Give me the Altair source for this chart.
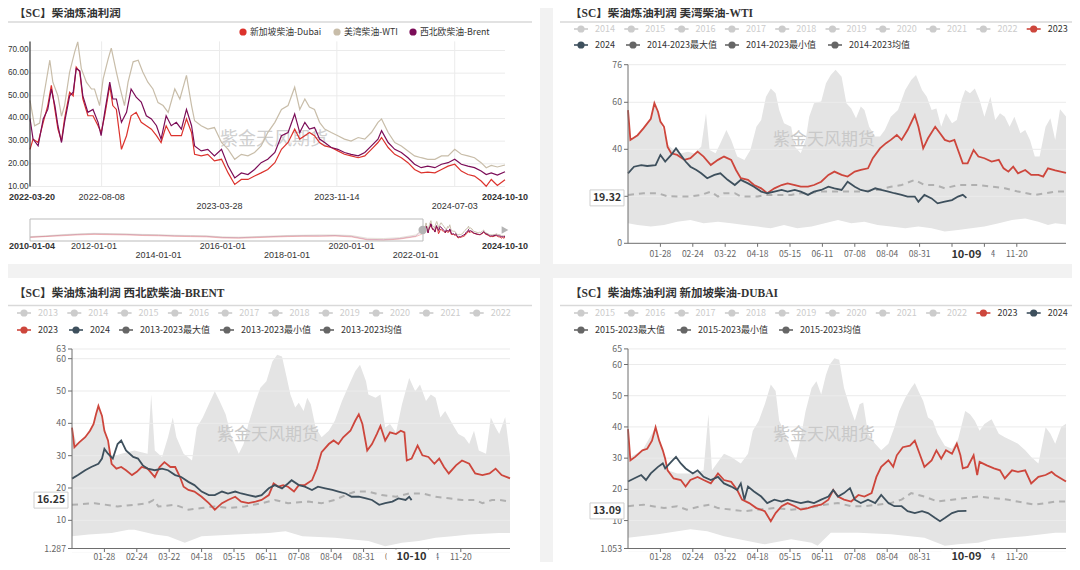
import altair as alt
import pandas as pd

# ======================= DATA =======================
# ---- top-left: diesel crack spreads, x = days since TL_START
TL_START = "2022-03-20"
tl_x_labels = ["2022-03-20", "2022-08-08", "2023-03-28", "2023-11-14", "2024-07-03", "2024-10-10"]
tl_y_ticks = [10, 20, 30, 40, 50, 60, 70]
tl_series_names = ["新加坡柴油-Dubai", "美湾柴油-WTI", "西北欧柴油-Brent"]

wti_days = [0, 9, 19, 26, 39, 45, 55, 62, 68, 78, 88, 94, 101, 111, 121, 127, 137, 144, 154, 160,
            170, 176, 186, 193, 203, 213, 222, 232, 242, 252, 262, 272, 285, 295, 308, 318, 324, 337, 350, 363,
            377, 390, 403, 416, 429, 442, 455, 468, 482, 495, 508, 521, 531, 541, 550, 560, 570, 580, 593, 606,
            619, 632, 646, 659, 672, 685, 692, 705, 718, 731, 744, 757, 770, 783, 797, 810, 823, 836, 849, 862,
            875, 888, 898, 908, 920, 935]
wti_vals = [48, 36.8, 38, 48.6, 65.7, 56, 50, 41, 45.7, 60.5, 69.4, 73.8, 62, 56, 53, 53, 45.7, 57.5, 66.4, 71,
            60.5, 54.6, 45.7, 56, 65, 65.7, 60.5, 56, 53, 47, 45.7, 42.7, 53, 48.6, 59, 45.7, 39, 36.8, 35.3, 36,
            29.4, 26.4, 22, 24.2, 23.5, 25, 27.9, 33.8, 38.3, 44, 45.7, 53.8, 44, 48.6, 45, 44, 38.3, 35.3, 33.8, 32.4,
            30.9, 30, 31.6, 30.9, 33.8, 38.3, 39.8, 33.8, 29.4, 27.9, 25.7, 23.5, 22.7, 22, 22, 23.5, 23.5, 26.4, 24.2, 23.5,
            22.7, 20.5, 18.3, 19.3, 18.6, 19.5]

bd_days = [0, 6, 16, 26, 35, 42, 49, 55, 62, 68, 78, 85, 91, 98, 104, 114, 124, 134, 140, 147,
           157, 163, 170, 180, 190, 199, 209, 219, 229, 239, 249, 258, 268, 278, 288, 298, 308, 318, 324, 337,
           350, 363, 377, 390, 403, 416, 429, 442, 455, 468, 482, 495, 508, 521, 531, 541, 550, 560, 570, 580,
           593, 606, 619, 632, 646, 659, 672, 685, 692, 705, 718, 731, 744, 757, 770, 783, 797, 810, 823, 836,
           849, 862, 875, 888, 898, 908, 920, 935]
brent_vals = [40, 30.9, 27.9, 39.8, 44, 53, 45.7, 36.8, 29.4, 38.3, 50, 51.6, 62, 61, 50, 42.7, 44, 38.3, 32.4, 42.7,
              56, 48.6, 48.6, 38.3, 42.7, 53, 49.4, 47.2, 41.2, 39.8, 36.8, 30.9, 41.2, 36.8, 38.3, 35.3, 44, 36.8, 27.9, 25.7,
              26.4, 23.5, 26.4, 19, 13.8, 16, 15.3, 17.5, 20.5, 22, 25, 32.4, 33.8, 42, 33.8, 38.3, 35.3, 36, 30.9, 29.4,
              27.2, 26.4, 25, 24.2, 23.5, 25, 27.9, 30.9, 34.6, 29.4, 26.4, 25, 22.7, 19.8, 18.3, 19, 18.3, 19.8, 20.5, 22,
              19.8, 19, 18.3, 16.8, 15.3, 16, 15, 16.5]
dubai_vals = [26.4, 30.9, 29.4, 38.3, 45.7, 54.6, 44, 35.3, 30.1, 39.8, 51.6, 50, 62.7, 60.5, 48.6, 41.2, 41.2, 36.8, 33.8, 41.2,
              54.6, 45.7, 44, 26.4, 32.4, 41.2, 42.7, 38.3, 36.8, 35.3, 32.4, 29.4, 36.8, 32.4, 32.4, 32.4, 39.8, 33.8, 24.2, 23.5,
              24.2, 21.3, 22, 16, 10.9, 13.1, 13.1, 14.6, 16, 17.5, 20.5, 26.4, 29.4, 35.3, 30.9, 32.4, 33.8, 32.4, 29.4, 27.9,
              27.2, 25.7, 24.2, 23.5, 22.7, 23.5, 26.4, 29.4, 31.6, 27.2, 24.2, 22.7, 20.5, 17.5, 16, 16.3, 16, 17.5, 19, 19.8,
              16.8, 15.3, 14.6, 12.4, 10.1, 13.1, 10.5, 13]

# ---- data-zoom slider (whole history)
SL_START = "2010-01-04"
slider_labels = ["2010-01-04", "2012-01-01", "2014-01-01", "2016-01-01", "2018-01-01",
                 "2020-01-01", "2022-01-01", "2024-10-10"]
hist_dates = ["2010-01-04", "2010-07-01", "2011-01-01", "2011-07-01", "2012-01-01", "2012-07-01",
              "2013-01-01", "2013-07-01", "2014-01-01", "2014-07-01", "2015-01-01", "2015-07-01",
              "2016-01-01", "2016-07-01", "2017-01-01", "2017-07-01", "2018-01-01", "2018-07-01",
              "2019-01-01", "2019-07-01", "2020-01-01", "2020-07-01", "2021-01-01", "2021-07-01",
              "2022-01-01", "2022-03-19"]
hist_wti = [16, 19, 23, 26, 28, 27, 26, 24, 23, 21, 20, 19, 15, 14, 16, 18, 20, 21, 22, 22, 20, 10, 9, 12, 22, 42]
hist_brent = [14, 17, 21, 24, 26, 25, 24, 22, 21, 19, 18, 17, 13, 12, 14, 16, 18, 19, 19, 20, 17, 6, 5, 9, 18, 38]
hist_dubai = [13, 16, 19, 22, 24, 23, 22, 20, 19, 17, 16, 15, 11, 10, 12, 14, 16, 17, 17, 18, 15, 4, 3, 7, 16, 26]

# ---- seasonal panels, x = day index of year (0 = 01-01, 366-day calendar)
season_tick_days = [27, 54, 81, 108, 135, 162, 189, 216, 243, 270, 297, 324]
season_tick_labels = ["01-28", "02-24", "03-22", "04-18", "05-15", "06-11", "07-08", "08-04",
                      "08-31", "09-27", "10-24", "11-20"]
WATERMARK = "紫金天风期货"

# WTI (US Gulf diesel)
wti_title = "【SC】柴油炼油利润 美湾柴油-WTI"
wti_leg_row1 = ["2014", "2015", "2016", "2017", "2018", "2019", "2020", "2021", "2022", "2023"]
wti_leg_row2 = ["2024", "2014-2023最大值", "2014-2023最小值", "2014-2023均值"]
wti_y_ticks = [0, 20, 40, 60, 76]
wti23_d = [0, 2, 8, 13, 19, 22, 25, 27, 30, 33, 36, 41, 47, 52, 58, 63, 69, 75, 80, 86,
           90, 94, 100, 105, 111, 116, 122, 128, 133, 139, 144, 150, 155, 161, 167, 172, 178, 183, 189, 194,
           200, 204, 210, 215, 219, 224, 228, 233, 239, 242, 246, 250, 256, 260, 264, 268, 272, 275, 279, 283,
           288, 292, 297, 303, 309, 313, 317, 321, 325, 331, 336, 342, 346, 350, 356, 365]
wti23_v = [56.7, 44, 46, 49, 53, 59.6, 56, 51.8, 49.6, 41, 38.3, 37.6, 35.5, 36.2, 39, 36.9, 33.3, 35.5, 36.9, 35.5,
           31.2, 27.7, 27, 24.8, 23.4, 21.3, 23.4, 24.8, 25.5, 24.8, 24.1, 24.1, 24.8, 26.2, 29.1, 30.5, 29.1, 28.4, 30.5, 31.2,
           31.9, 36.2, 40.4, 42.6, 44, 46.1, 44, 48.2, 54.6, 49.6, 40.4, 44.7, 49.6, 46.8, 44, 43.3, 44, 39.7, 34, 34,
           39.7, 36.9, 36.2, 34.8, 35.5, 31.9, 30.5, 32.6, 29.8, 31.2, 29.1, 29.1, 28.4, 31.9, 31, 30]
wti24_d = [0, 5, 11, 16, 23, 27, 31, 36, 40, 44, 48, 52, 57, 61, 66, 72, 77, 83, 89, 94,
           100, 105, 111, 116, 122, 128, 133, 139, 144, 150, 155, 161, 167, 172, 178, 183, 189, 194, 200, 206,
           211, 217, 222, 228, 233, 239, 242, 247, 253, 258, 264, 270, 275, 279, 282]
wti24_v = [29.8, 32.6, 33.3, 32.9, 33.3, 37.6, 34.8, 37.6, 40.4, 37.6, 34.8, 32.6, 31.2, 29.8, 27.7, 29.1, 29.8, 27, 24.8, 27,
           25.5, 24.1, 22, 21.3, 22, 22.7, 22, 22.7, 22, 20.6, 22, 22.7, 24.1, 23.4, 22.7, 26.2, 24.1, 22.7, 22, 23.4,
           22.7, 22, 21.3, 20.6, 19.9, 19.9, 17.7, 20.6, 19.1, 17, 17.7, 18.4, 19.9, 20.6, 19.32]
wti_avg_d = [0, 13, 25, 33, 52, 61, 69, 75, 80, 89, 94, 108, 114, 136, 144, 152, 158, 180, 192, 208,
             219, 228, 239, 247, 256, 264, 275, 286, 292, 303, 314, 325, 339, 348, 356, 365]
wti_avg_v = [20.6, 21.3, 21.3, 20, 19.9, 20.6, 22, 19.9, 21.3, 21.3, 19.9, 19.9, 20.6, 20.6, 21.3, 21.3, 22, 22, 22, 22.7,
             24.1, 24.8, 27, 24.8, 24.8, 23.4, 24.8, 24.8, 24.8, 24.1, 23.4, 22, 20.6, 21.3, 22, 22]
wti_max_d = [0, 2, 8, 13, 19, 22, 27, 33, 38, 44, 50, 55, 61, 65, 68, 73, 77, 82, 86, 91,
             97, 102, 107, 111, 115, 119, 123, 126, 130, 136, 139, 144, 148, 151, 155, 161, 165, 169, 173, 178,
             182, 186, 190, 194, 197, 201, 206, 210, 214, 219, 225, 231, 236, 240, 245, 249, 253, 257, 261, 265,
             270, 274, 278, 281, 285, 289, 293, 297, 302, 306, 310, 314, 318, 322, 327, 331, 335, 339, 343, 348,
             352, 356, 360, 365]
wti_max_v = [56.7, 44, 46, 49, 53, 59.6, 51.8, 42, 39.7, 38.3, 39, 38.3, 41.1, 55.3, 39.7, 38.3, 42.6, 48.2, 44, 36.9,
             35.5, 39.7, 49.6, 52.5, 62.4, 65.9, 63.8, 56.7, 51.1, 49.6, 41.1, 38.3, 44, 53.9, 59.6, 60.3, 68.1, 71.6, 73.8, 70.9,
             59.6, 57.4, 53.2, 58.2, 56.7, 49.6, 45.4, 45.4, 48.2, 53.9, 56.7, 65.2, 69.5, 71.6, 65.2, 62.4, 56.7, 57.4, 49.6, 55.3,
             51.1, 52.5, 61, 65.2, 63.8, 65.9, 61, 53.9, 62.4, 52.5, 55.3, 53.9, 49.6, 53.9, 46.8, 48.2, 44, 36.9, 36.9, 49.6,
             53.2, 44, 57, 54]
wti_min_d = [0, 8, 19, 30, 41, 52, 63, 75, 86, 97, 108, 119, 130, 141, 153, 164, 175, 186, 197, 208,
             219, 231, 242, 253, 264, 275, 286, 297, 309, 320, 331, 342, 350, 356, 365]
wti_min_v = [8.5, 7.8, 7.1, 7.8, 9.2, 9.9, 8.5, 9.2, 8.5, 7.8, 7.1, 6.4, 7.8, 6.4, 7.1, 8.5, 9.9, 8.5, 9.2, 7.8,
             7.1, 6.4, 7.1, 6.4, 5, 5.7, 6.4, 7.1, 8.5, 9.9, 10.6, 9.2, 7.8, 8.5, 8]

# BRENT (NW Europe diesel)
brent_title = "【SC】柴油炼油利润 西北欧柴油-BRENT"
brent_leg_row1 = ["2013", "2014", "2015", "2016", "2017", "2018", "2019", "2020", "2021", "2022"]
brent_leg_row2 = ["2023", "2024", "2013-2023最大值", "2013-2023最小值", "2013-2023均值"]
brent_y_ticks = [1.287, 10, 20, 30, 40, 50, 60, 63]
brent23_d = [0, 2, 6, 11, 15, 18, 20, 22, 25, 27, 30, 33, 37, 41, 45, 50, 54, 58, 63, 69,
             73, 77, 82, 86, 90, 93, 97, 102, 108, 114, 119, 125, 130, 136, 141, 147, 153, 158, 164, 168,
             172, 176, 180, 185, 189, 194, 200, 204, 208, 214, 218, 222, 226, 232, 236, 239, 242, 246, 250, 254,
             257, 261, 265, 270, 274, 277, 279, 283, 288, 292, 297, 302, 306, 310, 314, 320, 325, 331, 336, 342,
             348, 353, 358, 365]
brent23_v = [38.7, 32.6, 34.1, 35.7, 37.7, 39.8, 42.8, 45.4, 42.3, 37.7, 34.7, 27.5, 26, 26.5, 25.5, 24, 25, 26.5, 26, 23.4,
             26.5, 28, 26.5, 26.5, 23.4, 20.4, 19.4, 18.9, 17.3, 15.3, 13.3, 15.3, 16.3, 17.3, 15.8, 15.3, 15.8, 16.3, 17.8, 21.4,
             20.4, 20.9, 20.4, 18.9, 20.9, 20.9, 22.4, 26, 31.1, 33.6, 34.7, 33.6, 35.7, 37.7, 40.8, 42.8, 39.8, 31.6, 33.6, 36.7,
             39.2, 34.7, 37.2, 36.7, 37.7, 37.2, 28.5, 29.1, 33.1, 30.1, 29.6, 27.5, 29.1, 26.5, 24.5, 27, 28.5, 27.5, 24.5, 24,
             24.5, 26, 24, 23]
brent24_d = [0, 5, 11, 16, 22, 25, 27, 30, 34, 38, 41, 45, 51, 55, 59, 63, 69, 75, 80, 86,
             91, 97, 102, 108, 114, 119, 125, 130, 136, 141, 147, 153, 158, 164, 169, 175, 180, 183, 189, 194,
             200, 205, 211, 217, 222, 228, 233, 239, 245, 250, 256, 261, 267, 272, 278, 281, 283]
brent24_v = [22.9, 24, 25.5, 26.5, 27.5, 29.1, 32.1, 30.6, 29.1, 33.6, 34.7, 31.6, 29.6, 29.1, 27, 26, 25.5, 26, 25.5, 24,
             23.4, 21.9, 20.9, 18.9, 17.8, 17.8, 18.9, 18.3, 18.9, 18.3, 17.8, 17.3, 17.8, 19.9, 20.9, 19.9, 21.4, 22.4, 20.9, 20.4,
             19.4, 20.4, 19.9, 19.4, 18.9, 18.3, 17.3, 17.3, 16.8, 16.3, 14.8, 15.3, 15.8, 16.8, 16.3, 17.3, 16.25]
brent_avg_d = [0, 19, 38, 52, 63, 68, 72, 86, 97, 108, 119, 130, 144, 158, 169, 180, 197, 208, 219, 228,
               236, 247, 258, 270, 281, 292, 303, 314, 325, 336, 342, 350, 356, 365]
brent_avg_v = [14.8, 15.3, 14.3, 14.8, 15.3, 16.3, 14.3, 14.8, 13.3, 13.8, 14.3, 13.8, 14.3, 15.3, 16.3, 15.3, 15.8, 15.3, 16.3, 17.8,
               18.9, 18.9, 17.8, 17.3, 18.3, 18.3, 17.3, 16.8, 16.3, 16.3, 15.3, 16.3, 16.3, 15.8]
brent_max_d = [0, 4, 11, 18, 22, 27, 33, 41, 52, 63, 66, 69, 75, 80, 84, 87, 93, 100, 104, 109,
               114, 119, 123, 128, 133, 139, 143, 147, 153, 157, 162, 167, 171, 175, 179, 182, 186, 189, 193, 196,
               199, 203, 208, 214, 219, 225, 231, 236, 240, 245, 247, 253, 257, 261, 265, 270, 275, 281, 286, 290,
               295, 299, 303, 307, 311, 317, 322, 327, 331, 335, 339, 345, 349, 353, 356, 361, 365]
brent_max_v = [38.7, 33.6, 35.7, 39.8, 45.4, 37.7, 29.6, 30.6, 31.6, 30.6, 48.9, 31.6, 29.6, 35.7, 41.8, 35.7, 30.6, 28.5, 38.7, 41.8,
               45.9, 49.9, 46.9, 42.8, 35.7, 30.6, 33.6, 39.8, 46.9, 51, 53, 59.1, 61.2, 60.7, 54, 48.9, 44.9, 46.4, 43.8, 47.9,
               45.9, 38.7, 35.7, 37.7, 40.8, 46.9, 52, 56.1, 58.1, 53, 48.9, 47.9, 48.9, 38.7, 39.8, 37.2, 45.9, 54, 49.9, 52,
               46.9, 48.9, 47.9, 41.8, 43.8, 39.8, 36.7, 35.7, 33.6, 37.7, 31.6, 30.6, 41.8, 38.7, 36.7, 42, 30]
brent_min_d = [0, 14, 33, 47, 52, 69, 80, 94, 108, 136, 164, 178, 192, 219, 247, 261, 275, 289, 303, 317, 331, 356, 365]
brent_min_v = [5.1, 5.6, 6.1, 7.1, 7.1, 5.6, 5.1, 3.1, 5.1, 5.6, 6.1, 6.6, 5.1, 4.6, 3.6, 2, 3.1, 3.6, 4.6, 5.1, 5.6, 6.1, 6.1]

# DUBAI (Singapore diesel)
dubai_title = "【SC】柴油炼油利润 新加坡柴油-DUBAI"
dubai_leg_row1 = ["2015", "2016", "2017", "2018", "2019", "2020", "2021", "2022", "2023", "2024"]
dubai_leg_row2 = ["2015-2023最大值", "2015-2023最小值", "2015-2023均值"]
dubai_y_ticks = [1.053, 10, 20, 30, 40, 50, 60, 65]
dubai23_d = [0, 2, 6, 12, 16, 20, 23, 26, 29, 31, 33, 38, 44, 48, 52, 58, 63, 69, 75, 80,
             86, 91, 95, 101, 107, 114, 119, 123, 128, 133, 139, 144, 150, 155, 161, 167, 171, 175, 180, 186,
             192, 197, 203, 207, 211, 217, 221, 224, 229, 235, 239, 243, 247, 253, 257, 261, 265, 270, 274, 277,
             279, 283, 288, 291, 293, 299, 305, 310, 314, 320, 325, 331, 336, 342, 348, 353, 356, 365]
dubai23_v = [39.3, 29.3, 30.4, 32.5, 33, 35.6, 39.9, 35.6, 32.5, 29.8, 26.1, 23.5, 23, 20.9, 23, 24, 23, 21.9, 25.1, 23,
             22.4, 19.8, 16.7, 15.6, 14, 13, 9.8, 12.4, 14.6, 15.6, 14.6, 13.5, 14, 14.6, 15.1, 16.7, 19.8, 17.7, 16.7, 16.1,
             18.2, 17.7, 18.8, 24, 27.2, 29.3, 27.2, 30.9, 33.5, 34, 35.6, 31.4, 27.2, 29.3, 32.5, 29.8, 32.5, 31.4, 34.6, 30.9,
             26.7, 27.2, 30.9, 24.6, 28.8, 27.7, 26.7, 26.1, 23.5, 26.1, 25.6, 26.1, 21.9, 24, 24.6, 25.6, 24.6, 22.5]
dubai24_d = [0, 5, 11, 15, 19, 25, 29, 31, 36, 40, 44, 48, 54, 58, 63, 69, 75, 80, 86, 91,
             94, 97, 100, 105, 111, 116, 122, 128, 133, 139, 144, 150, 155, 161, 167, 171, 175, 180, 185, 189,
             194, 200, 206, 211, 217, 222, 228, 233, 239, 245, 250, 256, 260, 264, 270, 275, 282]
dubai24_v = [22.5, 23.5, 24.6, 23, 25.1, 27.2, 28.3, 26.7, 28.8, 30.4, 28.3, 26.7, 25.1, 26.1, 24, 23, 24, 21.9, 20.9, 19.8,
             21.9, 16.7, 20.9, 19.3, 17.7, 15.6, 16.7, 16.1, 16.7, 16.1, 15.6, 16.1, 15.6, 16.7, 17.7, 19.8, 17.7, 18.8, 20.4, 16.7,
             15.6, 16.7, 15.6, 18.2, 15.6, 14.6, 14.6, 13, 12.4, 13, 12.4, 10.8, 9.8, 10.8, 12.4, 13, 13.09]
dubai_avg_d = [0, 13, 30, 41, 49, 61, 68, 75, 86, 97, 108, 122, 136, 150, 164, 175, 186, 197, 208, 219,
               228, 236, 247, 258, 270, 281, 292, 303, 317, 331, 339, 348, 356, 365]
dubai_avg_v = [14.6, 15.1, 14, 14.6, 13.5, 14.6, 15.1, 14, 13.5, 13, 13.5, 14, 13.5, 14, 15.1, 15.6, 14.6, 14.6, 15.1, 15.6,
               16.7, 18.8, 17.7, 16.1, 16.7, 17.2, 17.7, 17.2, 16.7, 15.6, 15.1, 15.6, 16.1, 16.1]
dubai_max_d = [0, 2, 12, 23, 29, 33, 41, 52, 63, 67, 70, 76, 80, 86, 94, 100, 104, 109, 114, 119,
               123, 126, 130, 136, 140, 144, 148, 153, 157, 161, 165, 168, 172, 176, 180, 185, 189, 193, 196, 200,
               206, 211, 217, 222, 226, 231, 236, 239, 242, 246, 250, 254, 258, 264, 270, 275, 281, 285, 289, 293,
               297, 303, 309, 314, 320, 325, 331, 336, 342, 348, 352, 356, 361, 365]
dubai_max_v = [39.3, 30.4, 32.5, 39.9, 32.5, 26.1, 25.1, 25.1, 26.1, 44.1, 26.1, 29.3, 31.4, 30.4, 28.3, 31.4, 38.8, 42, 47.3, 53.6,
               51.5, 42, 38.8, 32.5, 29.3, 36.7, 45.1, 52.5, 54.6, 50.4, 56.7, 59.9, 62, 61.5, 52.5, 46.2, 42, 47.3, 47.8, 37.8,
               34.6, 32.5, 34.6, 39.9, 45.1, 49.3, 52.5, 54.1, 51.5, 48.3, 43, 42, 37.8, 34, 33, 36, 45.1, 44.1, 42, 38.8,
               40.9, 42.5, 37.8, 36.7, 35.6, 34.6, 32.5, 30.4, 28.3, 39.9, 37.8, 34.6, 40, 41]
dubai_min_d = [0, 25, 52, 66, 80, 114, 136, 153, 158, 169, 192, 219, 247, 264, 275, 292, 303, 331, 356, 365]
dubai_min_v = [4.5, 5.6, 7.2, 6.6, 5, 2.4, 4, 2.9, 1.9, 6.1, 6.1, 5.6, 4.5, 1.9, 2.4, 2.9, 4, 5, 6.1, 6.1]

tl_title = "【SC】柴油炼油利润"

# ======================= STYLE / LAYOUT =======================
OFF = 8                 # page margin; layout numbers below are page pixels
W, H = 1064, 554
CJK = "Noto Sans CJK SC"
TITLE_FONT = "'Liberation Serif', 'Noto Sans CJK SC'"
LAT = "Liberation Sans"
C_DUBAI, C_WTI, C_BRENT = "#dc322c", "#c8bda9", "#7b0d58"
C23, C24, CAVG, CSTAT = "#cd463c", "#3e505d", "#b0b0b0", "#666666"
INACT = "#cccccc"
AREA, GRID, AXC, LBL, WM = "#e4e4e4", "#ebebeb", "#6e6e6e", "#666666", "#cfcfcf"
XBOX = "M-1,-0.28L1,-0.28L1,0.28L-1,0.28Z"
YBOX = "M-1,-0.47L1,-0.47L1,0.47L-1,0.47Z"


def P(v):
    return v - OFF


ONE = pd.DataFrame({"k": [0]})
L = []


def sc(domain, a, b):
    return alt.Scale(domain=domain, range=[P(a), P(b)], nice=False, zero=False)


def box(x0, y0, x1, y1, **kw):
    L.append(alt.Chart(ONE).mark_rect(**kw).encode(
        x=alt.value(P(x0)), x2=alt.value(P(x1)), y=alt.value(P(y0)), y2=alt.value(P(y1))))


def hrule(x0, x1, y, color, w=1.0):
    L.append(alt.Chart(ONE).mark_rule(color=color, strokeWidth=w).encode(
        x=alt.value(P(x0)), x2=alt.value(P(x1)), y=alt.value(P(y))))


def vrule(x, y0, y1, color, w=1.0):
    L.append(alt.Chart(ONE).mark_rule(color=color, strokeWidth=w).encode(
        x=alt.value(P(x)), y=alt.value(P(y0)), y2=alt.value(P(y1))))


def label(x, y, s, size, color="#333333", font=CJK, weight="normal", align="left"):
    L.append(alt.Chart(ONE).mark_text(text=s, fontSize=size, color=color, font=font,
                                      fontWeight=weight, align=align, baseline="middle").encode(
        x=alt.value(P(x)), y=alt.value(P(y))))


def line(days, vals, xs, ys, color, w, dash=None, opacity=1.0):
    df = pd.DataFrame({"d": days, "v": vals})
    kw = dict(color=color, strokeWidth=w, opacity=opacity)
    if dash:
        kw["strokeDash"] = dash
    L.append(alt.Chart(df).mark_line(**kw).encode(
        x=alt.X("d:Q", scale=xs, axis=None), y=alt.Y("v:Q", scale=ys, axis=None)))


def area(days, vals, xs, ys, color, ybottom):
    df = pd.DataFrame({"d": days, "v": vals})
    L.append(alt.Chart(df).mark_area(color=color, opacity=1).encode(
        x=alt.X("d:Q", scale=xs, axis=None), y=alt.Y("v:Q", scale=ys, axis=None),
        y2=alt.value(P(ybottom))))


def xlabels(days, texts, xs, y, size, color, weight="normal", font=LAT, align="center", dx=0):
    df = pd.DataFrame({"d": days, "t": texts})
    L.append(alt.Chart(df).mark_text(fontSize=size, color=color, font=font, fontWeight=weight,
                                     align=align, baseline="middle", dx=dx).encode(
        x=alt.X("d:Q", scale=xs, axis=None), y=alt.value(P(y)), text="t:N"))


def legend(items, centers, y, sym_colors, txt_colors, line_sym=True, size=9):
    df = pd.DataFrame({"t": items, "cx": [P(c) for c in centers],
                       "x1": [P(c - 7) for c in centers], "x2": [P(c + 7) for c in centers],
                       "tx": [P(c + 14) if line_sym else P(c + 7) for c in centers],
                       "cy": [P(y)] * len(items), "sc": sym_colors, "tc": txt_colors})
    if line_sym:
        L.append(alt.Chart(df).mark_rule(strokeWidth=1.6).encode(
            x=alt.X("x1:Q", scale=None, axis=None), x2="x2:Q",
            y=alt.Y("cy:Q", scale=None, axis=None), color=alt.Color("sc:N", scale=None)))
    L.append(alt.Chart(df).mark_point(shape="circle", filled=True, size=52, opacity=1).encode(
        x=alt.X("cx:Q", scale=None, axis=None), y=alt.Y("cy:Q", scale=None, axis=None),
        color=alt.Color("sc:N", scale=None)))
    L.append(alt.Chart(df).mark_text(fontSize=size, font=CJK, align="left", baseline="middle").encode(
        x=alt.X("tx:Q", scale=None, axis=None), y=alt.Y("cy:Q", scale=None, axis=None),
        text="t:N", color=alt.Color("tc:N", scale=None)))


# ======================= PANEL BACKGROUNDS =======================
box(0, 0, 540, 264, fill="white")
box(553, 0, 1080, 264, fill="white")
box(0, 278, 540, 570, fill="white")
box(553, 278, 1080, 570, fill="white")

# ======================= TOP-LEFT =======================
label(14, 14, tl_title, 11.5, weight="bold", font=TITLE_FONT)
hrule(8, 532, 22, "#d9d9d9", 1.5)
legend(tl_series_names, [243, 337, 413], 32, [C_DUBAI, C_WTI, C_BRENT], ["#333333"] * 3,
       line_sym=False, size=8.8)

tl_span = (pd.Timestamp("2024-10-10") - pd.Timestamp(TL_START)).days
tl_xs = sc([0, tl_span], 30, 505)
tl_ys = sc([10, 74], 186.5, 41.4)
tl_tick_days = [(pd.Timestamp(s) - pd.Timestamp(TL_START)).days for s in tl_x_labels]

gdf = pd.DataFrame({"v": tl_y_ticks, "t": [f"{v:.2f}" for v in tl_y_ticks]})
L.append(alt.Chart(gdf).mark_rule(color=GRID).encode(
    y=alt.Y("v:Q", scale=tl_ys, axis=None), x=alt.value(P(30)), x2=alt.value(P(505))))
vdf = pd.DataFrame({"d": tl_tick_days[1:-1]})
L.append(alt.Chart(vdf).mark_rule(color=GRID).encode(
    x=alt.X("d:Q", scale=tl_xs, axis=None), y=alt.value(P(41.4)), y2=alt.value(P(186.5))))
label(274, 140, WATERMARK, 18, WM, align="center")

line(bd_days, dubai_vals, tl_xs, tl_ys, C_DUBAI, 1.2)
line(wti_days, wti_vals, tl_xs, tl_ys, C_WTI, 1.2)
line(bd_days, brent_vals, tl_xs, tl_ys, C_BRENT, 1.2)

vrule(30, 41.4, 186.5, "#333333", 1.2)
L.append(alt.Chart(gdf).mark_text(fontSize=8.2, font=LAT, color="#333333", align="right",
                                  baseline="middle").encode(
    y=alt.Y("v:Q", scale=tl_ys, axis=None), x=alt.value(P(28.5)), text="t:N"))
tl_rows = [197, 197, 206, 197, 206, 197]
for i, (d, s) in enumerate(zip(tl_tick_days, tl_x_labels)):
    if i == 0:
        xlabels([d], [s], tl_xs, tl_rows[i], 9, "#333333", weight="bold", align="left", dx=-21)
    elif i == len(tl_x_labels) - 1:
        xlabels([d], [s], tl_xs, tl_rows[i], 9, "#333333", weight="bold")
    else:
        xlabels([d], [s], tl_xs, tl_rows[i], 9, "#333333")

# ---- slider
sl_span = (pd.Timestamp("2024-10-10") - pd.Timestamp(SL_START)).days
sl_xs = sc([0, sl_span], 30, 505)
sl_ys = sc([0, 80], 241, 219)
shift = (pd.Timestamp(TL_START) - pd.Timestamp(SL_START)).days
hist_days = [(pd.Timestamp(s) - pd.Timestamp(SL_START)).days for s in hist_dates]
line(hist_days, hist_wti, sl_xs, sl_ys, C_WTI, 1, opacity=0.45)
line(hist_days, hist_brent, sl_xs, sl_ys, C_BRENT, 1, opacity=0.25)
line(hist_days, hist_dubai, sl_xs, sl_ys, C_DUBAI, 1, opacity=0.3)
line([d + shift for d in bd_days], dubai_vals, sl_xs, sl_ys, C_DUBAI, 1)
line([d + shift for d in wti_days], wti_vals, sl_xs, sl_ys, C_WTI, 1)
line([d + shift for d in bd_days], brent_vals, sl_xs, sl_ys, C_BRENT, 1)
box(30, 219, 423, 241, fill="white", fillOpacity=0, stroke="#bbbbbb", strokeWidth=1)
hdf = pd.DataFrame({"d": [shift]})
L.append(alt.Chart(hdf).mark_point(shape="circle", filled=True, size=70, color="#b4b4b4", opacity=1).encode(
    x=alt.X("d:Q", scale=sl_xs, axis=None), y=alt.value(P(230))))
hdf2 = pd.DataFrame({"d": [sl_span]})
L.append(alt.Chart(hdf2).mark_point(shape="triangle-right", filled=True, size=60, color="#b4b4b4", opacity=1).encode(
    x=alt.X("d:Q", scale=sl_xs, axis=None), y=alt.value(P(230))))
sl_days = [(pd.Timestamp(s) - pd.Timestamp(SL_START)).days for s in slider_labels]
sl_rows = [246, 246, 255, 246, 255, 246, 255, 246]
for i, (d, s) in enumerate(zip(sl_days, slider_labels)):
    if i == 0:
        xlabels([d], [s], sl_xs, sl_rows[i], 9, "#333333", weight="bold", align="left", dx=-21)
    elif i == len(slider_labels) - 1:
        xlabels([d], [s], sl_xs, sl_rows[i], 9, "#333333", weight="bold")
    else:
        xlabels([d], [s], sl_xs, sl_rows[i], 9, "#333333")


# ======================= SEASONAL PANELS =======================
def seasonal(title, tx, ty, sep_x0, leg1, leg1_cx, leg1_col, leg2, leg2_cx, leg2_col, ly1, ly2,
             x0, x1, yb, yt, ydom, yticks, mx, mn, avg, s23, s24,
             hl_day, hl_text, hl_cx, wm_cx, wm_cy, xlab_y, sep_y, covered_y=(), covered_x=()):
    label(tx, ty, title, 11.5, weight="bold", font=TITLE_FONT)
    hrule(sep_x0, 1072 if sep_x0 > 540 else 532, sep_y, "#d9d9d9", 1.5)
    legend(leg1, leg1_cx, ly1, leg1_col,
           [INACT if c == INACT else "#333333" for c in leg1_col])
    legend(leg2, leg2_cx, ly2, leg2_col,
           [INACT if c == INACT else "#333333" for c in leg2_col])

    xs = sc([0, 365], x0, x1)
    ys = sc(ydom, yb, yt)
    area(mx[0], mx[1], xs, ys, AREA, yb)
    area(mn[0], mn[1], xs, ys, "white", yb)
    grid = pd.DataFrame({"v": [t for t in yticks if t > ydom[0]]})
    L.append(alt.Chart(grid).mark_rule(color=GRID).encode(
        y=alt.Y("v:Q", scale=ys, axis=None), x=alt.value(P(x0)), x2=alt.value(P(x1))))
    label(wm_cx, wm_cy, WATERMARK, 17, "#c9c9c9", align="center")
    line(avg[0], avg[1], xs, ys, CAVG, 2, dash=[6, 5])
    line(s23[0], s23[1], xs, ys, C23, 1.8)
    line(s24[0], s24[1], xs, ys, C24, 1.8)

    vrule(x0, yt, yb, AXC)
    hrule(x0, x1, yb, AXC)
    ydf = pd.DataFrame({"v": yticks, "t": [f"{v:g}" for v in yticks]})
    L.append(alt.Chart(ydf).mark_rule(color=AXC).encode(
        y=alt.Y("v:Q", scale=ys, axis=None), x=alt.value(P(x0 - 4)), x2=alt.value(P(x0))))
    # labels fully hidden by the crosshair value box in the reference are not drawn
    ydf_l = ydf[~ydf["v"].isin(covered_y)]
    L.append(alt.Chart(ydf_l).mark_text(fontSize=8.7, font=CJK, color=LBL, align="right",
                                        baseline="middle").encode(
        y=alt.Y("v:Q", scale=ys, axis=None), x=alt.value(P(x0 - 6)), text="t:N"))
    xdf = pd.DataFrame({"d": season_tick_days, "t": season_tick_labels})
    L.append(alt.Chart(xdf).mark_rule(color=AXC).encode(
        x=alt.X("d:Q", scale=xs, axis=None), y=alt.value(P(yb)), y2=alt.value(P(yb + 3.5))))
    xdf_l = xdf[~xdf["t"].isin(covered_x)]
    xlabels(list(xdf_l["d"]), list(xdf_l["t"]), xs, xlab_y, 8.5, LBL, font=CJK)

    hx = pd.DataFrame({"d": [hl_day], "t": [hl_text]})
    L.append(alt.Chart(hx).mark_point(shape=XBOX, size=2500, filled=True, fill="white",
                                      opacity=1, strokeWidth=0).encode(
        x=alt.X("d:Q", scale=xs, axis=None), y=alt.value(P(xlab_y))))
    L.append(alt.Chart(hx).mark_text(fontSize=11, fontWeight="bold", font=CJK, color="#333333",
                                     baseline="middle").encode(
        x=alt.X("d:Q", scale=xs, axis=None), y=alt.value(P(xlab_y + 0.5)), text="t:N"))
    last = s24[1][-1]
    hy = pd.DataFrame({"v": [last], "t": [f"{last:.2f}"]})
    L.append(alt.Chart(hy).mark_point(shape=YBOX, size=1156, filled=True, fill="white",
                                      stroke="#cfcfcf", strokeWidth=1, opacity=1).encode(
        x=alt.value(P(hl_cx)), y=alt.Y("v:Q", scale=ys, axis=None)))
    L.append(alt.Chart(hy).mark_text(fontSize=10.5, fontWeight="bold", font=CJK, color="#333333",
                                     baseline="middle").encode(
        x=alt.value(P(hl_cx)), y=alt.Y("v:Q", scale=ys, axis=None), text="t:N"))


row_step = 50.3
# WTI (top right)
seasonal(wti_title, 570, 14, 560,
         wti_leg_row1, [581 + row_step * i for i in range(10)], [INACT] * 9 + [C23],
         wti_leg_row2, [581, 633, 732, 835], [C24, CSTAT, CSTAT, CSTAT], 29, 45,
         628, 1066, 243.3, 64.7, [0, 76], wti_y_ticks,
         (wti_max_d, wti_max_v), (wti_min_d, wti_min_v), (wti_avg_d, wti_avg_v),
         (wti23_d, wti23_v), (wti24_d, wti24_v),
         282, "10-09", 607, 824, 140, 254, 22, covered_y=(20,), covered_x=("09-27",))
# BRENT (bottom left)
seasonal(brent_title, 14, 294, 8,
         brent_leg_row1, [24 + row_step * i for i in range(10)], [INACT] * 10,
         brent_leg_row2, [24, 76, 126, 227, 327], [C23, C24, CSTAT, CSTAT, CSTAT], 313, 330,
         72, 510, 548.5, 349, [1.287, 63], brent_y_ticks,
         (brent_max_d, brent_max_v), (brent_min_d, brent_min_v), (brent_avg_d, brent_avg_v),
         (brent23_d, brent23_v), (brent24_d, brent24_v),
         283, "10-10", 51, 268, 435, 556.5, 305.5)
# DUBAI (bottom right)
seasonal(dubai_title, 570, 294, 560,
         dubai_leg_row1, [581 + row_step * i for i in range(10)], [INACT] * 8 + [C23, C24],
         dubai_leg_row2, [581, 684, 786], [CSTAT, CSTAT, CSTAT], 313, 330,
         628, 1066, 548.5, 348.9, [1.053, 65], dubai_y_ticks,
         (dubai_max_d, dubai_max_v), (dubai_min_d, dubai_min_v), (dubai_avg_d, dubai_avg_v),
         (dubai23_d, dubai23_v), (dubai24_d, dubai24_v),
         282, "10-09", 607, 824, 435, 556.5, 305.5, covered_x=("09-27",))

chart = alt.layer(*L).resolve_scale(x="independent", y="independent").properties(
    width=W, height=H, background="#f2f2f2", padding=0,
    autosize=alt.AutoSizeParams(type="none"),
).configure_view(strokeWidth=0)

chart.save("out.html", embed_options={"renderer": "svg", "actions": False})
